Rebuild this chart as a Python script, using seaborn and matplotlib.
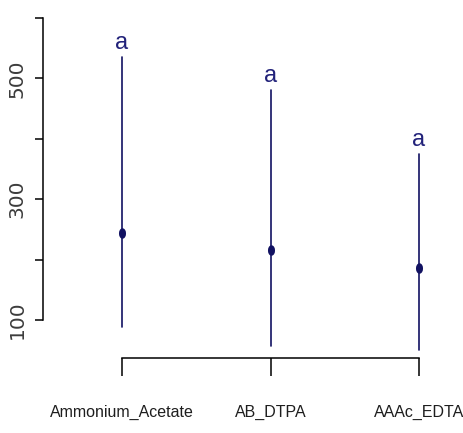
import numpy as np
import pandas as pd
import matplotlib
matplotlib.use("Agg")
import matplotlib.pyplot as plt
from matplotlib import font_manager
from matplotlib.path import Path
from matplotlib.transforms import Affine2D
import seaborn as sns

# ---- data ----
categories = ["Ammonium_Acetate", "AB_DTPA", "AAAc_EDTA"]
means = [244, 216, 186]
lower = [88, 57, 50]
upper = [535, 481, 375]
letters = ["a", "a", "a"]
ytick_values = [100, 200, 300, 400, 500, 600]
ytick_labels = ["100", "", "300", "", "500", ""]

sns.set_theme(style="white")

names = {f.name for f in font_manager.fontManager.ttflist}
narrow = "Liberation Sans Narrow" if "Liberation Sans Narrow" in names else "Liberation Sans"
is_narrow = narrow.endswith("Narrow")

navy = "#121262"

# long-form table: each group's lower / mean / upper
rows = []
for c, lo, m, hi in zip(categories, lower, means, upper):
    for v in (lo, m, hi):
        rows.append({"method": c, "value": v})
df = pd.DataFrame(rows)

W, H, DPI = 464, 433, 100
fig = plt.figure(figsize=(W / DPI, H / DPI), dpi=DPI)
ax = fig.add_axes([43 / W, 0, (W - 43) / W, 1])

ellipse = Path.unit_circle().transformed(Affine2D().scale(0.55, 1.0))

sns.pointplot(data=df, x="method", y="value", order=categories,
              estimator=np.median,
              errorbar=lambda v: (v.min(), v.max()),
              color=navy, linestyle="none", marker=ellipse,
              markersize=5.5, err_kws={"linewidth": 1.2, "color": navy},
              ax=ax)

# significance letters above each bar
for i, (hi, lab) in enumerate(zip(upper, letters)):
    ax.annotate(lab, xy=(i, hi), xytext=(0, 10), textcoords="offset points",
                ha="center", va="center", color="#22227a",
                fontsize=19 if is_narrow else 17,
                family=[narrow, "DejaVu Sans"])

ax.set_xlim(-0.532, 2.303)
ax.set_ylim(-87.1, 629.8)

for s in ("top", "right"):
    ax.spines[s].set_visible(False)
ax.spines["left"].set_bounds(100, 600)
ax.spines["bottom"].set_position(("data", 37.1))
ax.spines["bottom"].set_bounds(0, 2)
for s in ("left", "bottom"):
    ax.spines[s].set_color("black")
    ax.spines[s].set_linewidth(1.1)

ax.set_yticks(ytick_values)
ax.set_yticklabels(ytick_labels, rotation=90, va="center",
                   fontsize=14.5, color="#3c3c3c", family="DejaVu Sans")
ax.tick_params(axis="y", direction="out", length=6, width=1.1,
               color="black", pad=6, left=True)
ax.tick_params(axis="x", direction="out", length=13, width=1.1,
               color="black", pad=21, bottom=True)
ax.set_xticks(range(len(categories)))
ax.set_xticklabels(categories,
                   fontsize=13 if is_narrow else 11.5,
                   color="#1e1e1e", family=[narrow, "DejaVu Sans"])
ax.set_xlabel("")
ax.set_ylabel("")
ax.grid(False)

fig.savefig("out.png", dpi=DPI)
